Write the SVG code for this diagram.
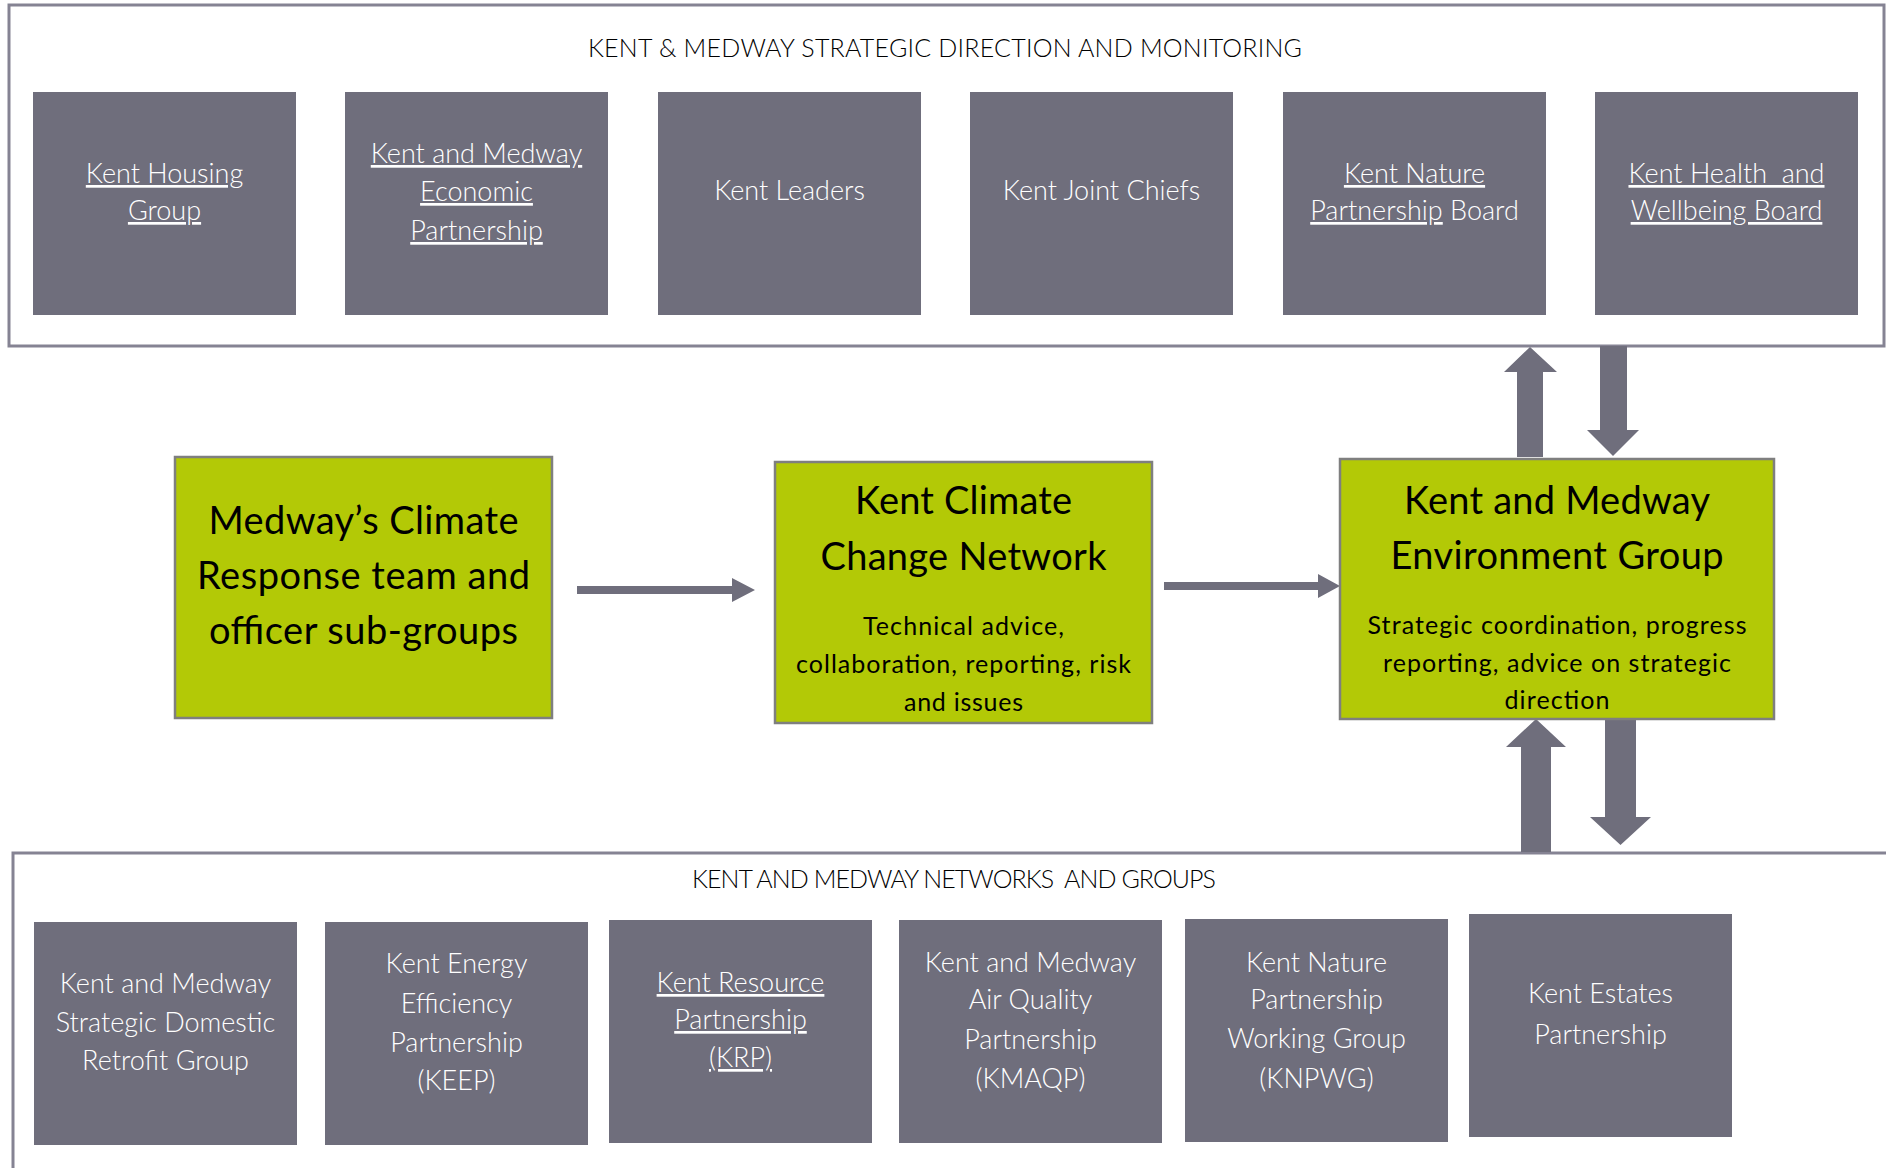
<svg xmlns="http://www.w3.org/2000/svg" width="1886" height="1168" viewBox="0 0 1886 1168">
<style>
.container{fill:#ffffff;stroke:#858393;stroke-width:3}
.gbox{fill:#6f6e7c}
.green{fill:#b3c906;stroke:#7f7f7f;stroke-width:2.5}
.arrow{fill:#6f6e7c}
.lt{font-family:Lato,"Liberation Sans",sans-serif;font-weight:300;fill:#ffffff;font-size:27px;text-anchor:middle}
.hd{font-family:Lato,"Liberation Sans",sans-serif;font-weight:300;fill:#000000;font-size:25px;text-anchor:middle}
.big{font-family:Lato,"Liberation Sans",sans-serif;font-weight:400;fill:#000000;font-size:38px;text-anchor:middle}
.sub{font-family:Lato,"Liberation Sans",sans-serif;font-weight:400;fill:#000000;font-size:25px;text-anchor:middle}
.u{text-decoration:underline}
</style>
<rect width="1886" height="1168" fill="#ffffff"/>
<g id="top-container">
<rect class="container" x="9" y="5" width="1875" height="341"/>
<text class="hd" x="945" y="57" textLength="714" lengthAdjust="spacing">KENT &amp; MEDWAY STRATEGIC DIRECTION AND MONITORING</text>
</g>
<g id="bottom-container">
<rect class="container" x="13" y="853" width="1890" height="400"/>
<text class="hd" x="954" y="888" font-size="23" textLength="524" lengthAdjust="spacing" xml:space="preserve">KENT AND MEDWAY NETWORKS  AND GROUPS</text>
</g>
<g id="connectors">
<polygon class="arrow" points="577,586 732,586 732,578 755,590 732,602 732,594 577,594"/>
<polygon class="arrow" points="1164,582 1318,582 1318,574 1340,586 1318,598 1318,590 1164,590"/>
<polygon class="arrow" points="1517,457 1517,372 1504,372 1530,347 1557,372 1543,372 1543,457"/>
<polygon class="arrow" points="1600,346 1627,346 1627,430 1639,430 1613,456 1587,430 1600,430"/>
<polygon class="arrow" points="1521,852 1521,747 1506,747 1536,719 1566,747 1551,747 1551,852"/>
<polygon class="arrow" points="1605,719 1636,719 1636,817 1651,817 1620.5,845 1590,817 1605,817"/>
</g>
<g id="kent-housing-group">
<rect class="gbox" x="33" y="92" width="263" height="223"/>
<text class="lt" x="164.5" y="183"><tspan class="u">Kent Housing</tspan></text>
<text class="lt" x="164.5" y="220"><tspan class="u">Group</tspan></text>
</g>
<g id="kent-medway-economic-partnership">
<rect class="gbox" x="345" y="92" width="263" height="223"/>
<text class="lt" x="476.5" y="163"><tspan class="u">Kent and Medway</tspan></text>
<text class="lt" x="476.5" y="201"><tspan class="u">Economic</tspan></text>
<text class="lt" x="476.5" y="240"><tspan class="u">Partnership</tspan></text>
</g>
<g id="kent-leaders">
<rect class="gbox" x="658" y="92" width="263" height="223"/>
<text class="lt" x="789.5" y="200">Kent Leaders</text>
</g>
<g id="kent-joint-chiefs">
<rect class="gbox" x="970" y="92" width="263" height="223"/>
<text class="lt" x="1101.5" y="200">Kent Joint Chiefs</text>
</g>
<g id="kent-nature-partnership-board">
<rect class="gbox" x="1283" y="92" width="263" height="223"/>
<text class="lt" x="1414.5" y="183"><tspan class="u">Kent Nature</tspan></text>
<text class="lt" x="1414.5" y="220"><tspan class="u">Partnership</tspan> Board</text>
</g>
<g id="kent-health-wellbeing-board">
<rect class="gbox" x="1595" y="92" width="263" height="223"/>
<text class="lt" x="1726.5" y="183" xml:space="preserve"><tspan class="u">Kent Health  and</tspan></text>
<text class="lt" x="1726.5" y="220"><tspan class="u">Wellbeing Board</tspan></text>
</g>
<g id="medway-climate-response">
<rect class="green" x="175" y="457" width="377" height="261"/>
<text class="big" x="363.5" y="534" textLength="310" lengthAdjust="spacing">Medway’s Climate</text>
<text class="big" x="363.5" y="589" textLength="333" lengthAdjust="spacing">Response team and</text>
<text class="big" x="363.5" y="644" textLength="309" lengthAdjust="spacing">officer sub-groups</text>
</g>
<g id="kent-climate-change-network">
<rect class="green" x="775" y="462" width="377" height="261"/>
<text class="big" x="963.5" y="514" textLength="217" lengthAdjust="spacing">Kent Climate</text>
<text class="big" x="963.5" y="570" textLength="286" lengthAdjust="spacing">Change Network</text>
<text class="sub" x="963.5" y="635" textLength="201" lengthAdjust="spacing">Technical advice,</text>
<text class="sub" x="963.5" y="673" textLength="335" lengthAdjust="spacing">collaboration, reporting, risk</text>
<text class="sub" x="963.5" y="711" textLength="119" lengthAdjust="spacing">and issues</text>
</g>
<g id="kent-medway-environment-group">
<rect class="green" x="1340" y="459" width="434" height="260"/>
<text class="big" x="1557" y="514" textLength="306" lengthAdjust="spacing">Kent and Medway</text>
<text class="big" x="1557" y="569" textLength="333" lengthAdjust="spacing">Environment Group</text>
<text class="sub" x="1557" y="634" textLength="379" lengthAdjust="spacing">Strategic coordination, progress</text>
<text class="sub" x="1557" y="672" textLength="348" lengthAdjust="spacing">reporting, advice on strategic</text>
<text class="sub" x="1557" y="709" textLength="105" lengthAdjust="spacing">direction</text>
</g>
<g id="strategic-domestic-retrofit">
<rect class="gbox" x="34" y="922" width="263" height="223"/>
<text class="lt" x="165.5" y="993">Kent and Medway</text>
<text class="lt" x="165.5" y="1032">Strategic Domestic</text>
<text class="lt" x="165.5" y="1070">Retrofit Group</text>
</g>
<g id="keep">
<rect class="gbox" x="325" y="922" width="263" height="223"/>
<text class="lt" x="456.5" y="973">Kent Energy</text>
<text class="lt" x="456.5" y="1013">Efficiency</text>
<text class="lt" x="456.5" y="1052">Partnership</text>
<text class="lt" x="456.5" y="1090">(KEEP)</text>
</g>
<g id="krp">
<rect class="gbox" x="609" y="920" width="263" height="223"/>
<text class="lt" x="740.5" y="992"><tspan class="u">Kent Resource</tspan></text>
<text class="lt" x="740.5" y="1029"><tspan class="u">Partnership</tspan></text>
<text class="lt" x="740.5" y="1067"><tspan class="u">(KRP)</tspan></text>
</g>
<g id="kmaqp">
<rect class="gbox" x="899" y="920" width="263" height="223"/>
<text class="lt" x="1030.5" y="972">Kent and Medway</text>
<text class="lt" x="1030.5" y="1009">Air Quality</text>
<text class="lt" x="1030.5" y="1049">Partnership</text>
<text class="lt" x="1030.5" y="1088">(KMAQP)</text>
</g>
<g id="knpwg">
<rect class="gbox" x="1185" y="919" width="263" height="223"/>
<text class="lt" x="1316.5" y="972">Kent Nature</text>
<text class="lt" x="1316.5" y="1009">Partnership</text>
<text class="lt" x="1316.5" y="1048">Working Group</text>
<text class="lt" x="1316.5" y="1088">(KNPWG)</text>
</g>
<g id="kent-estates-partnership">
<rect class="gbox" x="1469" y="914" width="263" height="223"/>
<text class="lt" x="1600.5" y="1003">Kent Estates</text>
<text class="lt" x="1600.5" y="1044">Partnership</text>
</g>
</svg>
